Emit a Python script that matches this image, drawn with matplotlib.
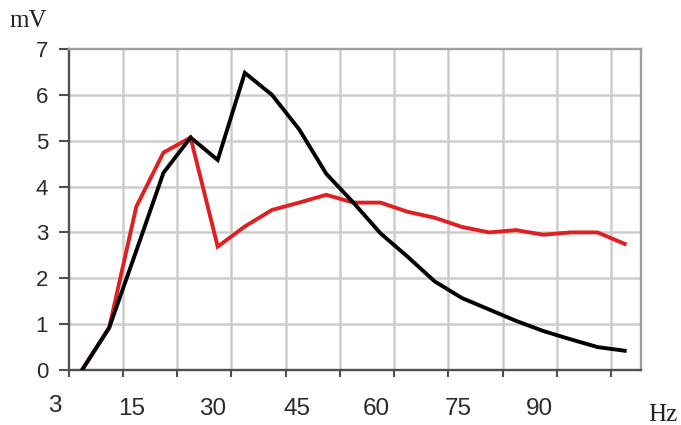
import numpy as np
import matplotlib
matplotlib.use('Agg')
import matplotlib.pyplot as plt
import matplotlib.transforms as mtransforms

## DATA

# sample positions along the x axis (one point every half grid cell)
x_pos = list(range(21))

# black curve (mV)
black_mv = [0.0, 0.92, 2.6, 4.3, 5.07, 4.58, 6.48, 6.0, 5.25, 4.28, 3.65,
            2.98, 2.47, 1.93, 1.57, 1.32, 1.07, 0.85, 0.67, 0.5, 0.42]

# red curve (mV)
red_mv = [0.0, 0.92, 3.56, 4.74, 5.07, 2.69, 3.13, 3.49, 3.65, 3.82, 3.65,
          3.65, 3.45, 3.32, 3.12, 3.0, 3.05, 2.95, 3.0, 3.0, 2.75]

# frequency labels under the axis and where they sit on it
hz_labels = ['3', '15', '30', '45', '60', '75', '90']
hz_label_pos = [-1.0, 1.84, 4.82, 7.92, 10.83, 13.85, 16.87]

y_ticks = [0, 1, 2, 3, 4, 5, 6, 7]
grid_x = [1.5, 3.5, 5.5, 7.5, 9.5, 11.5, 13.5, 15.5, 17.5, 19.5]

## FIGURE
W, H = 681, 425
fig = plt.figure(figsize=(W / 100, H / 100), dpi=100)
fig.patch.set_facecolor('white')
ax = fig.add_axes([69 / W, (H - 370) / H, (641 - 69) / W, (370 - 49) / H])

ax.set_xlim(-0.48, 20.6)
ax.set_ylim(0, 7)

# grid
for gx in grid_x:
    ax.axvline(gx, color='#cdcdcd', lw=1.8, zorder=0)
for gy in y_ticks[1:-1]:
    ax.axhline(gy, color='#cdcdcd', lw=1.8, zorder=0)

ax.plot(x_pos, red_mv, color='#e02020', lw=2.8, solid_joinstyle='miter', zorder=3)
ax.plot(x_pos, black_mv, color='black', lw=2.8, solid_joinstyle='miter', zorder=4)

# spines
for side in ['left', 'bottom']:
    ax.spines[side].set_color('#505050')
    ax.spines[side].set_linewidth(1.7)
for side in ['top', 'right']:
    ax.spines[side].set_color('#a0a0a0')
    ax.spines[side].set_linewidth(1.7)

# ticks
ax.set_yticks(y_ticks)
ax.set_yticklabels([str(v) for v in y_ticks], fontfamily='Liberation Sans',
                   fontsize=16, color='#2a2a2a')
ax.tick_params(axis='y', direction='out', length=7, width=1.5,
               color='#505050', pad=8)
ax.set_xticks([-0.48] + grid_x)
ax.set_xticklabels([])
ax.tick_params(axis='x', direction='out', length=5, width=1.5, color='#505050')

# frequency labels
trans = mtransforms.blended_transform_factory(ax.transData, ax.transAxes)
for lab, pos in zip(hz_labels, hz_label_pos):
    yy = -0.112 if lab == '3' else -0.12
    ax.text(pos, yy, lab, transform=trans, ha='center', va='center',
            fontfamily='Liberation Sans', fontsize=17.5, color='#2a2a2a')

# unit labels
ax.text(21.4, -0.14, 'Hz', transform=trans, ha='center', va='center',
        fontfamily='Liberation Serif', fontsize=18, color='#222222',
        clip_on=False)
ax.text(-0.072, 1.087, 'mV', transform=ax.transAxes, ha='center', va='center',
        fontfamily='Liberation Serif', fontsize=18, color='#222222')

fig.savefig('out.png', dpi=100)
print('fertig')
